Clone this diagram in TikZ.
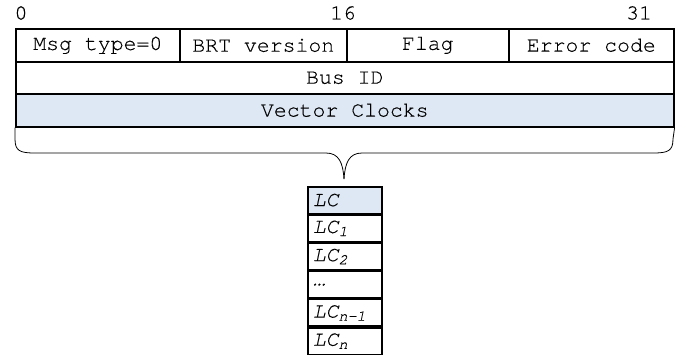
\documentclass[tikz,border=0pt]{standalone}
\usepackage{fontspec}
\setmonofont[FakeBold=0.3]{TeX Gyre Cursor}
\definecolor{clockblue}{RGB}{221,232,244}
\tikzset{
  field/.style={draw, line width=1.6pt, inner sep=0pt, anchor=north west,
    font=\ttfamily\fontsize{21.5}{24}\selectfont},
  bitnum/.style={inner sep=0pt, font=\ttfamily\fontsize{21.5}{24}\selectfont},
  lcbox/.style={draw, line width=1.6pt, anchor=north west, inner xsep=5pt, inner ysep=0pt,
    text width=64pt, align=left, minimum height=26.6pt,
    font=\ttfamily\itshape\fontsize{21.5}{24}\selectfont},
  brace/.style={draw, line width=0.8pt}
}
\begin{document}
\begin{tikzpicture}[x=1pt, y=-1pt]
  \useasboundingbox (0,0) rectangle (689,356);
  % Bit positions
  \node[bitnum] (b0)  at (21,13)  {0};
  \node[bitnum] (b16) at (343,13) {16};
  \node[bitnum] (b31) at (639,13) {31};
  % First word
  \node[field, minimum width=164pt, minimum height=33pt] (type) at (15,28)  {Msg type=0};
  \node[field, minimum width=167pt, minimum height=33pt] (ver)  at (179,28) {BRT version};
  \node[field, minimum width=162pt, minimum height=33pt] (flag) at (346,28) {Flag};
  \node[field, minimum width=165pt, minimum height=33pt] (err)  at (508,28) {Error code};
  % Bus ID and vector clocks
  \node[field, minimum width=658pt, minimum height=32pt] (bus) at (15,61) {Bus ID};
  \node[field, minimum width=658pt, minimum height=33pt, fill=clockblue] (vc) at (15,93) {Vector Clocks};
  % Brace down to the clock list
  \coordinate (tip) at (344,179);
  \draw[brace] (vc.south west) -- (15,139) .. controls (15,151) and (20,153) .. (35,153)
    -- (326,153) .. controls (339,153) and (343,163) .. (tip);
  \draw[brace] (vc.south east) -- (673,139) .. controls (673,151) and (668,153) .. (653,153)
    -- (362,153) .. controls (349,153) and (345,163) .. (tip);
  % Logical clocks
  \node[lcbox, fill=clockblue] (lc0) at (307,186) {LC};
  \node[lcbox] (lc1) at (lc0.south west) {LC\textsubscript{1}};
  \node[lcbox] (lc2) at (lc1.south west) {LC\textsubscript{2}};
  \node[lcbox] (lc3) at (lc2.south west) {…};
  \node[lcbox] (lc4) at (lc3.south west) {LC\textsubscript{n-1}};
  \node[lcbox] (lc5) at (lc4.south west) {LC\textsubscript{n}};
\end{tikzpicture}
\end{document}
